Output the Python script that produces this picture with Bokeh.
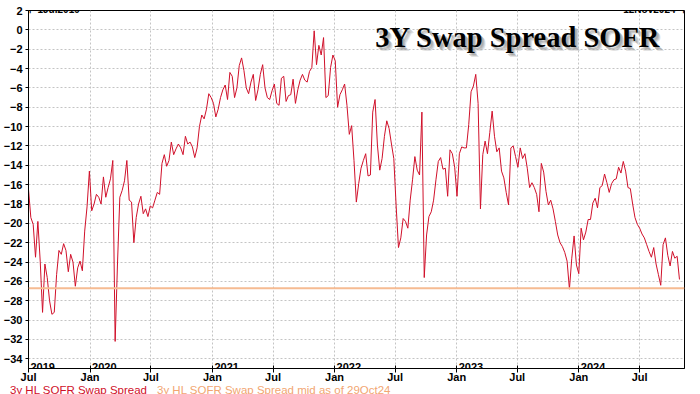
import pandas as pd
from bokeh.plotting import figure
from bokeh.layouts import column
from bokeh.models import Range1d, FixedTicker, DatetimeTickFormatter, Span, Label, Div
from bokeh.core.properties import value
from bokeh.embed import file_html
from bokeh.resources import INLINE

# ---------------- data (weekly readings of 3y HL SOFR swap spread, bp) ----------------
start_date = "2019-07-01"
end_date = "2024-11-12"
spread = [
    -16.5, -19.4, -20.1, -23.5, -19.8, -23.9, -29.2, -24.2, -25.6, -28.0,
    -29.4, -29.2, -25.3, -22.8, -23.2, -22.1, -22.8, -25.0, -23.2, -24.0,
    -26.5, -24.6, -23.9, -24.9, -20.8, -18.3, -14.6, -18.7, -18.0, -17.0,
    -17.3, -18.0, -15.2, -17.3, -16.3, -15.4, -13.5, -32.2, -24.2, -17.3,
    -16.6, -15.6, -13.5, -17.6, -17.8, -22.0, -19.4, -18.0, -17.2, -19.0,
    -18.5, -19.3, -18.2, -18.4, -17.6, -16.8, -17.0, -13.8, -12.9, -14.1,
    -13.5, -11.6, -12.9, -12.3, -11.8, -12.2, -12.9, -11.0, -11.8, -11.6,
    -12.1, -13.2, -12.2, -10.0, -8.8, -9.2, -8.2, -6.6, -7.0, -7.6,
    -9.0, -8.2, -7.0, -6.2, -5.7, -7.2, -4.4, -4.8, -7.0, -6.0,
    -3.7, -2.9, -4.2, -6.0, -6.6, -5.4, -4.6, -7.3, -6.2, -4.6,
    -3.6, -6.0, -7.0, -7.2, -6.3, -5.6, -7.6, -7.8, -5.0, -4.8,
    -7.4, -6.8, -6.7, -5.1, -7.6, -6.2, -5.2, -4.6, -5.2, -5.4,
    -4.3, -3.9, -0.1, -3.6, -1.6, -2.6, -0.8, -7.0, -6.8, -3.9,
    -2.6, -3.2, -8.0, -6.7, -6.2, -5.6, -7.8, -10.8, -9.9, -13.5,
    -17.8, -15.9, -14.3, -13.5, -12.8, -15.1, -15.0, -8.5, -7.2, -11.9,
    -14.5, -13.3, -11.0, -9.4, -10.2, -11.8, -13.3, -18.2, -22.5, -21.5,
    -19.5, -19.8, -20.5, -17.6, -15.5, -13.1, -14.5, -15.0, -8.5, -25.6,
    -21.2, -19.3, -18.8, -17.6, -15.5, -13.6, -13.2, -14.4, -14.3, -17.2,
    -12.4, -12.8, -14.2, -17.2, -12.8, -12.1, -12.2, -12.2, -9.8, -6.4,
    -5.8, -4.6, -7.6, -18.5, -12.9, -11.5, -12.8, -10.6, -8.4, -11.0,
    -12.6, -12.2, -14.6, -15.3, -16.8, -18.1, -12.2, -12.0, -13.1, -14.2,
    -12.2, -13.3, -12.8, -14.3, -16.3, -15.8, -16.3, -17.0, -18.8, -13.8,
    -14.7, -16.7, -18.1, -17.6, -18.5, -19.8, -21.2, -22.0, -22.4, -23.0,
    -23.9, -26.8, -23.6, -21.3, -24.3, -25.2, -20.5, -21.7, -20.9, -19.6,
    -19.6, -17.9, -17.4, -18.4, -16.3, -16.1, -14.9, -15.8, -16.8, -15.9,
    -15.5, -15.4, -14.2, -14.8, -13.6, -14.6, -16.3, -16.4, -18.0, -19.4,
    -20.1, -20.5, -21.1, -21.5, -22.2, -22.9, -23.5, -22.5, -24.2, -25.3,
    -26.4, -22.2, -21.5, -23.3, -24.4, -22.9, -23.6, -23.4, -25.8,
]
mid_level = -26.7
mid_date_label = "29Oct24"
series_name = "3y HL SOFR Swap Spread"
mid_name = "3y HL SOFR Swap Spread mid as of " + mid_date_label
chart_title = "3Y Swap Spread SOFR"
start_label = "\u22a21Jul2019\u2014"
end_label = "\u201412Nov2024\u22a3"
y_min, y_max = -35, 2
y_ticks = list(range(-34, 3, 2))
x_tick_dates = ["2019-07-01", "2020-01-01", "2020-07-01", "2021-01-01", "2021-07-01",
                "2022-01-01", "2022-07-01", "2023-01-01", "2023-07-01", "2024-01-01",
                "2024-07-01"]
year_labels = ["2019", "2020", "2021", "2022", "2023", "2024"]
year_dates = ["2019-07-01", "2020-01-01", "2021-01-01", "2022-01-01", "2023-01-01", "2024-01-01"]

dates = pd.date_range(start_date, periods=len(spread), freq="7D")
t0 = pd.Timestamp(start_date)
t1 = pd.Timestamp(end_date)

RED = "#d0102a"
ORANGE_LINE = "#f6bb92"
ORANGE_TXT = "#f2a672"
SANS = "Liberation Sans"

p = figure(width=700, height=394, x_axis_type="datetime", output_backend="svg",
           toolbar_location=None,
           x_range=Range1d(t0, t1), y_range=Range1d(y_min, y_max),
           min_border_left=28, min_border_right=16, min_border_top=10, min_border_bottom=26)
p.background_fill_color = "white"
p.border_fill_color = "white"
p.outline_line_color = "black"
p.outline_line_width = 1

# grid
p.grid.grid_line_color = "#c4c4c4"
p.grid.grid_line_dash = "2 2"
p.grid.grid_line_width = 1

# y axis
p.yaxis.ticker = FixedTicker(ticks=y_ticks, minor_ticks=[])
p.yaxis.major_label_text_font = SANS
p.yaxis.major_label_text_font_style = "bold"
p.yaxis.major_label_text_font_size = "11px"
p.yaxis.major_label_text_color = "black"
p.yaxis.major_tick_out = 3
p.yaxis.major_tick_in = 0
p.yaxis.minor_tick_out = 0
p.yaxis.minor_tick_in = 0
p.yaxis.major_label_standoff = 3
p.yaxis.axis_line_color = "black"

# x axis
x_ticks_ms = [pd.Timestamp(d).value // 10**6 for d in x_tick_dates]
p.xaxis.ticker = FixedTicker(ticks=x_ticks_ms, minor_ticks=[])
p.xaxis.formatter = DatetimeTickFormatter(months="%b", days="%b", years="%b",
                                          hours="%b", minutes="%b", seconds="%b")
p.xaxis.major_label_text_font = SANS
p.xaxis.major_label_text_font_style = "bold"
p.xaxis.major_label_text_font_size = "11px"
p.xaxis.major_label_text_color = "black"
p.xaxis.major_tick_out = 4
p.xaxis.major_tick_in = 3
p.xaxis.minor_tick_out = 0
p.xaxis.minor_tick_in = 0
p.xaxis.major_label_standoff = -2
p.xaxis.axis_line_color = "black"

# mid line
p.add_layout(Span(location=mid_level, dimension="width", line_color=ORANGE_LINE, line_width=2))

# series
p.line(dates, spread, line_color=RED, line_width=1)

# year labels inside the bottom of the frame
p.text(x=[pd.Timestamp(d) for d in year_dates], y=[y_min] * len(year_labels), text=year_labels,
       text_font=value(SANS), text_font_style="bold", text_font_size="11px",
       text_color="black", text_baseline="alphabetic", text_align="left",
       x_offset=2, y_offset=-2)

# top range labels
p.add_layout(Label(x=t0, y=y_max, text=start_label, x_offset=0, y_offset=1,
                   text_font=SANS, text_font_style="bold", text_font_size="10px",
                   text_color="black", text_align="left", text_baseline="alphabetic"))
p.add_layout(Label(x=t1, y=y_max, text=end_label, x_offset=0, y_offset=1,
                   text_font=SANS, text_font_style="bold", text_font_size="10px",
                   text_color="black", text_align="right", text_baseline="alphabetic"))

# title with soft shadow
for dx, dy, col, a in [(4, -4, "#b0b0b0", 0.35), (3, -3, "#a0a0a0", 0.45), (2, -2, "#909090", 0.45)]:
    p.add_layout(Label(x=t1, y=y_max, text=chart_title, x_offset=-24 + dx, y_offset=-27 + dy,
                       text_font="Liberation Serif", text_font_style="bold", text_font_size="28.5px",
                       text_color=col, text_alpha=a, text_align="right", text_baseline="alphabetic"))
p.add_layout(Label(x=t1, y=y_max, text=chart_title, x_offset=-24, y_offset=-27,
                   text_font="Liberation Serif", text_font_style="bold", text_font_size="28.5px",
                   text_color="black", text_align="right", text_baseline="alphabetic"))

# legend line below the axis (HTML text, two colours)
span_css = "font-family:'Liberation Sans';font-size:11.5px;line-height:13px;white-space:nowrap;"
legend_html = (
    f'<span style="{span_css}color:{RED};">{series_name}</span>'
    f'<span style="{span_css}color:{ORANGE_TXT};margin-left:10px;">{mid_name}</span>'
)
legend = Div(text=legend_html, styles={"margin-top": "-10px", "margin-left": "10px",
                                       "line-height": "13px", "white-space": "nowrap"})

layout = column(p, legend, spacing=0,
                styles={"position": "absolute", "left": "0px", "top": "0px"})

open("out.html", "w").write(file_html(layout, INLINE))
